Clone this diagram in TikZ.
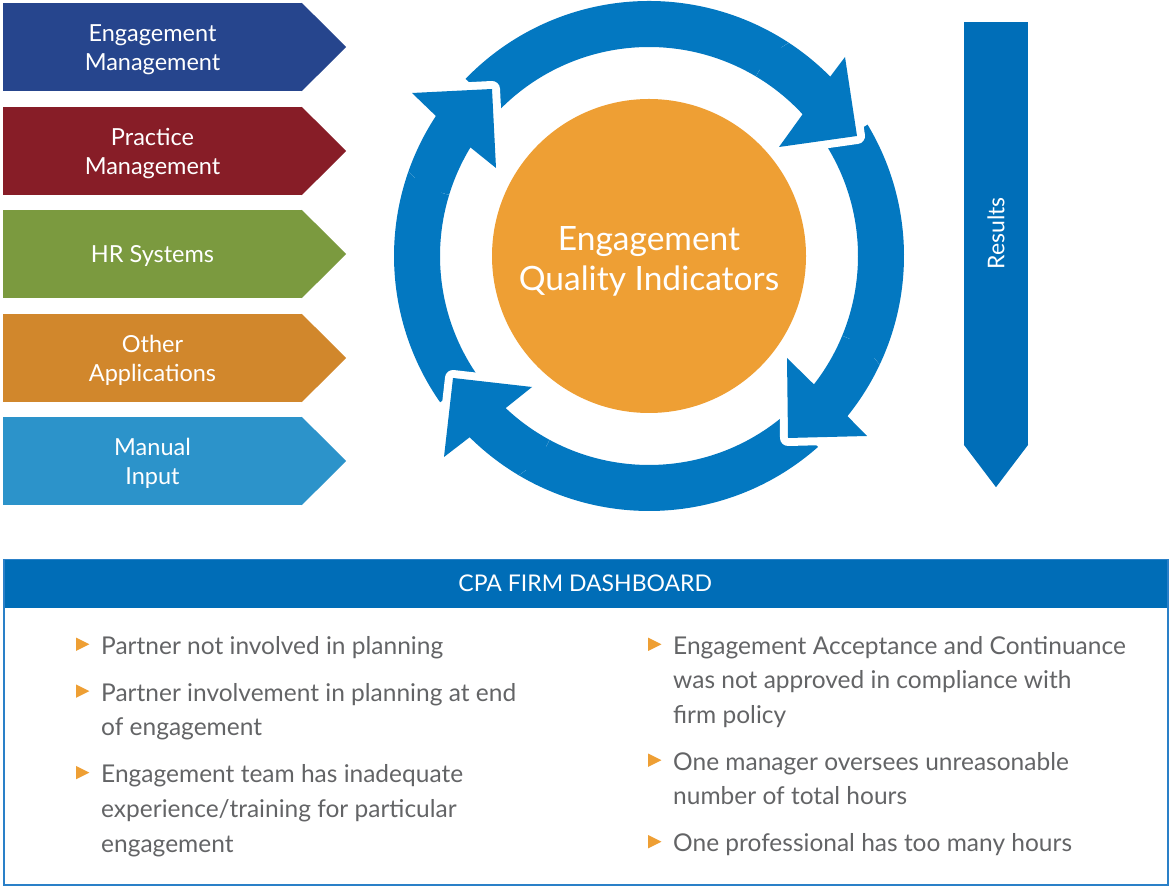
\documentclass[tikz,border=0pt]{standalone}
\usepackage{fontspec}
\setmainfont{Lato}
\usetikzlibrary{calc}
\definecolor{cEM}{HTML}{26458D}
\definecolor{cPM}{HTML}{871D27}
\definecolor{cHR}{HTML}{7B9A3F}
\definecolor{cOA}{HTML}{D1872C}
\definecolor{cMI}{HTML}{2C93CA}
\definecolor{cRing}{HTML}{0378C1}
\definecolor{cRes}{HTML}{006EB8}
\definecolor{cOrange}{HTML}{EE9F34}
\definecolor{cHead}{HTML}{006DB7}
\definecolor{cBorder}{HTML}{2A80C8}
\definecolor{cGray}{HTML}{636466}
\begin{document}
\begin{tikzpicture}[x=1pt,y=1pt,
  chev/.style={fill=#1, minimum width=299, minimum height=88, inner sep=0},
  chevtext/.style={inner sep=0, text=white, font=\fontsize{23.5}{29}\selectfont, align=center},
  item/.style={anchor=base west, inner sep=0, text=cGray,
    font=\fontsize{24.5}{34.7}\selectfont},
  ringfill/.style={fill=cRing},
  headedge/.style={preaction={draw=white, line width=16pt, line join=round}, fill=cRing}]
\useasboundingbox (0,0) rectangle (1169,886);
\coordinate (O) at (649,630);

% ---------- input chevrons ----------
\node[chev=cEM] (em) at (152.5,839) {};
\node[chev=cPM] (pm) at (152.5,735) {};
\node[chev=cHR] (hr) at (152.5,632) {};
\node[chev=cOA] (oa) at (152.5,528) {};
\node[chev=cMI] (mi) at (152.5,425) {};
\foreach \n/\c in {em/cEM,pm/cPM,hr/cHR,oa/cOA,mi/cMI}{
  \fill[\c] ([xshift=-0.5]\n.north east) -- ([xshift=44]\n.east) -- ([xshift=-0.5]\n.south east) -- cycle;
}
\node[chevtext] (emt) at ([yshift=-2.5]em.center) {Engagement\\Management};
\node[chevtext] (pmt) at ([yshift=-2.5]pm.center) {Practice\\Management};
\node[chevtext] (hrt) at ([yshift=-2.5]hr.center) {HR Systems};
\node[chevtext] (oat) at ([yshift=-2.5]oa.center) {Other\\Applications};
\node[chevtext] (mit) at ([yshift=-2.5]mi.center) {Manual\\Input};

% ---------- cycle arrows ----------
\def\arrA{($(O)+(215:255pt)$) arc[start angle=215, end angle=146.7, radius=255pt]
  -- (412,793) -- (492,797) -- (496,718) -- ($(O)+(148.7:209pt)$)
  arc[start angle=148.7, end angle=215, radius=209pt] -- cycle}
\def\arrB{($(O)+(136:255pt)$) arc[start angle=136, end angle=44.7, radius=255pt]
  -- (845,829) -- (857,750) -- (779,739) -- ($(O)+(42.7:209pt)$)
  arc[start angle=42.7, end angle=136, radius=209pt] -- cycle}
\def\arrC{($(O)+(31:255pt)$) arc[start angle=31, end angle=-38.9, radius=255pt]
  -- (867,450) -- (788,448) -- (787,528) -- ($(O)+(-37.9:209pt)$)
  arc[start angle=-37.9, end angle=31, radius=209pt] -- cycle}
\def\arrD{($(O)+(-48.5:255pt)$) arc[start angle=-48.5, end angle=-134.7, radius=255pt]
  -- (444,429) -- (453,508) -- (532,499) -- ($(O)+(-133.3:209pt)$)
  arc[start angle=-133.3, end angle=-48.5, radius=209pt] -- cycle}
\fill[ringfill] \arrA;
\fill[ringfill] \arrB;
\fill[ringfill] \arrC;
\fill[ringfill] \arrD;
% each head again, with its white edge laid over the next arrow's tail
\begin{scope}
  \clip (466.7,769.3) circle[radius=80pt];
  \path[headedge] \arrA;
\end{scope}
\begin{scope}
  \clip (827,772.7) circle[radius=80pt];
  \path[headedge] \arrB;
\end{scope}
\begin{scope}
  \clip (814,475.3) circle[radius=80pt];
  \path[headedge] \arrC;
\end{scope}
\begin{scope}
  \clip (476.3,478.7) circle[radius=80pt];
  \path[headedge] \arrD;
\end{scope}

% ---------- centre ----------
\node[circle, fill=cOrange, minimum size=314, inner sep=0] (eqi) at (O) {};
\node[text=white, font=\fontsize{33.5}{40}\selectfont, align=center, inner sep=0]
  (eqit) at ([yshift=-5]eqi.center) {Engagement\\Quality Indicators};

% ---------- results ----------
\node[fill=cRes, rotate=90, minimum width=423, minimum height=64, inner sep=0,
  text=white, font=\fontsize{23}{26}\selectfont] (res) at (996,652.5) {Results};
\fill[cRes] ([yshift=0.5]res.north west) -- ([yshift=-42]res.west) -- ([yshift=0.5]res.south west) -- cycle;

% ---------- dashboard ----------
\node[fill=cHead, minimum width=1164, minimum height=49, anchor=north west, inner sep=0,
  text=white, font=\fontsize{23}{26}\selectfont] (hdr) at (3,327) {CPA FIRM DASHBOARD};
\node[draw=cBorder, line width=1.5pt, minimum width=1164, minimum height=325,
  anchor=north west, inner sep=0] (dash) at (3,327) {};

\node[item] (l1) at (101,231.7) {\parbox[t]{520pt}{\raggedright\setlength{\baselineskip}{34.7pt}Partner not involved in planning}};
\node[item] (l2) at (101,184.9) {\parbox[t]{520pt}{\raggedright\setlength{\baselineskip}{34.7pt}Partner involvement in planning at end\\of engagement}};
\node[item] (l3) at (101,103.4) {\parbox[t]{520pt}{\raggedright\setlength{\baselineskip}{34.7pt}Engagement team has inadequate\\experience/training for particular\\engagement}};
\node[item] (r1) at (673,231.7) {\parbox[t]{520pt}{\raggedright\setlength{\baselineskip}{34.7pt}Engagement Acceptance and Continuance\\was not approved in compliance with\\firm policy}};
\node[item] (r2) at (673,115.8) {\parbox[t]{520pt}{\raggedright\setlength{\baselineskip}{34.7pt}One manager oversees unreasonable\\number of total hours}};
\node[item] (r3) at (673,34.3) {\parbox[t]{520pt}{\raggedright\setlength{\baselineskip}{34.7pt}One professional has too many hours}};
\foreach \n in {l1,l2,l3,r1,r2,r3}{
  \fill[cOrange] ([xshift=-25,yshift=3.3]\n.base west) -- ++(0,13.4) -- ++(13.4,-6.7) -- cycle;
}
\end{tikzpicture}
\end{document}
